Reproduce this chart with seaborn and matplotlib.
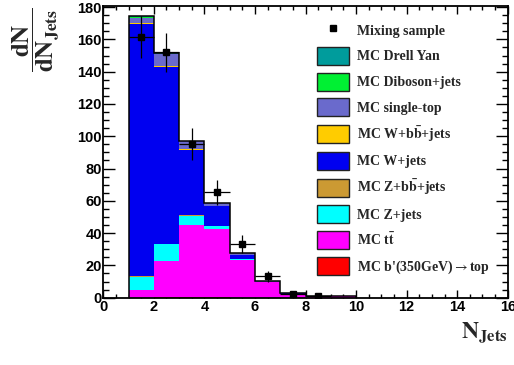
import numpy as np
import pandas as pd
import seaborn as sns
import matplotlib.pyplot as plt
from matplotlib.patches import Patch
from matplotlib.lines import Line2D
from matplotlib.ticker import MultipleLocator

# --- chart data ---
bin_centers = [1.5, 2.5, 3.5, 4.5, 5.5, 6.5, 7.5, 8.5, 9.5]
bin_edges = list(range(0, 17))

# stacked MC samples, legend order (top of stack first)
processes = ['MC Drell Yan', 'MC Diboson+jets', 'MC single-top',
             r'MC W+b$\mathbf{\bar{b}}$+jets', 'MC W+jets',
             r'MC Z+b$\mathbf{\bar{b}}$+jets', 'MC Z+jets',
             r'MC t$\mathbf{\bar{t}}$', r"MC b'(350GeV)$\rightarrow$top"]
colors = ['#009c9c', '#00f033', '#6a6acc', '#ffcc00', '#0000f0',
          '#cc9a33', '#00ffff', '#ff00ff', '#ff0000']

dy = [0.2, 0.2, 0.1, 0.1, 0.0, 0.0, 0.0, 0.0, 0.0]
diboson = [0.5, 0.2, 0.1, 0.1, 0.0, 0.0, 0.0, 0.0, 0.0]
single_top = [3.5, 7.2, 4.5, 1.6, 1.0, 0.1, 0.1, 0.0, 0.0]
wbb = [0.5, 0.8, 0.8, 0.3, 0.1, 0.0, 0.0, 0.0, 0.0]
wjets = [155.8, 109.5, 40.5, 12.0, 2.4, 0.2, 0.5, 0.3, 0.0]
zbb = [0.6, 0.5, 0.4, 0.2, 0.1, 0.0, 0.0, 0.0, 0.0]
zjets = [8.2, 10.0, 5.5, 1.8, 0.8, 0.2, 0.1, 0.0, 0.0]
ttbar = [4.8, 22.8, 45.0, 42.5, 23.0, 9.5, 2.3, 0.6, 0.9]
bprime = [0.1, 0.2, 0.2, 0.2, 0.1, 0.1, 0.05, 0.0, 0.0]
mc_values = [dy, diboson, single_top, wbb, wjets, zbb, zjets, ttbar, bprime]

# mixing sample points
data_x = [1.5, 2.5, 3.5, 4.5, 5.5, 6.5, 7.5, 8.5]
data_y = [161.5, 152.0, 95.3, 65.2, 33.4, 13.3, 2.0, 1.0]
data_err = [13.0, 12.0, 9.7, 8.0, 5.7, 3.5, 1.4, 1.0]

# long table for seaborn
rows = []
for proc, vals in zip(processes, mc_values):
    for c, v in zip(bin_centers, vals):
        rows.append({'njets': c, 'weight': v, 'process': proc})
df = pd.DataFrame(rows)
total = np.sum(np.array(mc_values), axis=0)

sns.set_style('ticks')
plt.rcParams['mathtext.fontset'] = 'stix'
plt.rcParams['font.family'] = ['Liberation Serif', 'DejaVu Serif']

fig = plt.figure(figsize=(5.14, 3.65), dpi=100)
ax = fig.add_axes([103.3 / 514, 1 - 297.7 / 365, (507.7 - 103.3) / 514, (297.7 - 5.5) / 365])

sns.histplot(data=df, x='njets', weights='weight', hue='process',
             hue_order=processes, palette=colors, multiple='stack',
             bins=bin_edges, element='bars', linewidth=0, alpha=1,
             legend=False, ax=ax)

# black outline of the stack
ax.stairs(total, np.arange(1, 11), color='black', linewidth=1.1, baseline=0)

ax.errorbar(data_x, data_y, yerr=data_err, xerr=0.5, fmt='s', color='black',
            markersize=4.3, elinewidth=0.9, capsize=0)

ax.set_xlim(0, 16)
ax.set_ylim(0, 181)
ax.set_xlabel('')
ax.set_ylabel('')
ax.xaxis.set_major_locator(MultipleLocator(2))
ax.xaxis.set_minor_locator(MultipleLocator(0.5))
ax.yaxis.set_major_locator(MultipleLocator(20))
ax.yaxis.set_minor_locator(MultipleLocator(5))
ax.tick_params(axis='both', which='both', direction='in', top=True, right=True,
               colors='black', width=1.0)
ax.tick_params(axis='x', which='major', length=6, pad=1.5)
ax.tick_params(axis='x', which='minor', length=3)
ax.tick_params(axis='y', which='major', length=8.6, pad=1)
ax.tick_params(axis='y', which='minor', length=4.3)
for lab in ax.get_xticklabels() + ax.get_yticklabels():
    lab.set_fontfamily('Liberation Sans')
    lab.set_fontweight('bold')
    lab.set_fontsize(10.5)
for sp in ax.spines.values():
    sp.set_visible(True)
    sp.set_linewidth(1.3)
    sp.set_color('black')

# legend
handles = [Line2D([], [], marker='s', color='black', linestyle='none', markersize=4.3)]
labels = ['Mixing sample']
for proc, col in zip(processes, colors):
    handles.append(Patch(facecolor=col, edgecolor='#222222', linewidth=1.0))
    labels.append(proc)
ax.legend(handles, labels, loc='upper left', bbox_to_anchor=(317 / 514, 1 - 21 / 365),
          bbox_transform=fig.transFigure, frameon=False, borderpad=0, borderaxespad=0,
          handlelength=2.3, handleheight=1.62, handletextpad=0.55, labelspacing=0.56,
          prop={'family': 'Liberation Serif', 'weight': 'bold', 'size': 10})

fig.text(36 / 514, 1 - 40 / 365,
         r'$\dfrac{\mathbf{dN}}{\mathbf{dN}_{\mathbf{Jets}}}$',
         rotation=90, ha='center', va='center', fontsize=18)
fig.text(507.7 / 514, 1 - 321 / 365, r'$\mathbf{N}_{\mathbf{Jets}}$',
         ha='right', va='top', fontsize=17)

fig.savefig('out.png', dpi=100, facecolor='white')
